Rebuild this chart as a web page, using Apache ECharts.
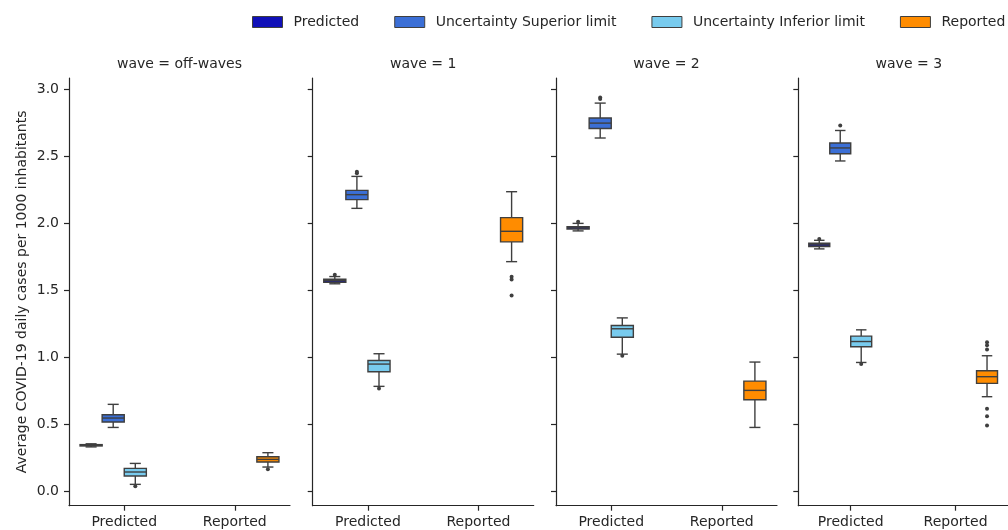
<!DOCTYPE html>
<html>
<head>
<meta charset="utf-8">
<script src="https://cdn.jsdelivr.net/npm/echarts@6/dist/echarts.min.js"></script>
<style>
html,body{margin:0;padding:0;background:#fff;}
#chart{width:1008px;height:530px;}
</style>
</head>
<body>
<div id="chart"></div>
<script>
// ---------------- data ----------------
const waves = ['off-waves', '1', '2', '3'];
const categories = ['Predicted', 'Reported'];
const hues = ['Predicted', 'Uncertainty Superior limit', 'Uncertainty Inferior limit', 'Reported'];
const hueCategory = ['Predicted', 'Predicted', 'Predicted', 'Reported'];
const yTicks = [0.0, 0.5, 1.0, 1.5, 2.0, 2.5, 3.0];

// [min, Q1, median, Q3, max] per wave
const predictedBoxes = [
  [0.333, 0.340, 0.345, 0.350, 0.356],
  [1.548, 1.560, 1.572, 1.582, 1.602],
  [1.942, 1.956, 1.965, 1.974, 1.998],
  [1.808, 1.826, 1.838, 1.850, 1.872]
];
const superiorBoxes = [
  [0.478, 0.518, 0.548, 0.573, 0.650],
  [2.110, 2.175, 2.212, 2.244, 2.348],
  [2.634, 2.705, 2.745, 2.783, 2.894],
  [2.463, 2.517, 2.560, 2.597, 2.690]
];
const inferiorBoxes = [
  [0.054, 0.116, 0.146, 0.173, 0.210],
  [0.784, 0.893, 0.950, 0.977, 1.027],
  [1.024, 1.150, 1.213, 1.237, 1.294],
  [0.962, 1.079, 1.118, 1.158, 1.205]
];
const reportedBoxes = [
  [0.183, 0.220, 0.240, 0.260, 0.290],
  [1.713, 1.860, 1.939, 2.041, 2.234],
  [0.478, 0.684, 0.754, 0.823, 0.965],
  [0.707, 0.806, 0.856, 0.900, 1.012]
];
const predictedOutliers = [[], [1.615], [2.010], [1.882]];
const superiorOutliers = [[], [2.372, 2.382], [2.925, 2.936], [2.728]];
const inferiorOutliers = [[0.040], [0.768], [1.012], [0.950]];
const reportedOutliers = [[0.166], [1.600, 1.580, 1.460], [], [1.113, 1.090, 1.059, 0.617, 0.562, 0.493]];

// ---------------- styling ----------------
const boxesByHue = [predictedBoxes, superiorBoxes, inferiorBoxes, reportedBoxes];
const outliersByHue = [predictedOutliers, superiorOutliers, inferiorOutliers, reportedOutliers];
const colors = ['#1010b8', '#3b6fd6', '#78cbee', '#ff8c00'];
const lineColor = '#3f3f3f';
const hueOffsets = [-0.3, -0.1, 0.1, 0.3];
const FONT = 'DejaVu Sans';
const textColor = '#262626';
const gridLefts = [69, 312.7, 556, 798.3];
const gridWidth = 221;
const gridTop = 78;
const gridHeight = 427.7;
const yMin = -0.105, yMax = 3.081;

const grid = [], xAxis = [], yAxis = [], title = [], series = [];

waves.forEach((w, wi) => {
  grid.push({left: gridLefts[wi], top: gridTop, width: gridWidth, height: gridHeight, containLabel: false});
  xAxis.push({
    type: 'category', gridIndex: wi, data: categories, boundaryGap: true,
    axisLine: {show: true, onZero: false, lineStyle: {color: textColor, width: 1.2}},
    axisTick: {show: true, alignWithLabel: true, length: 5, lineStyle: {color: textColor, width: 1.2}},
    axisLabel: {show: true, fontFamily: FONT, fontSize: 14, color: textColor, margin: 10},
    splitLine: {show: false}
  });
  const ya = {
    type: 'value', gridIndex: wi, min: yMin, max: yMax,
    axisLine: {show: true, onZero: false, lineStyle: {color: textColor, width: 1.2}},
    axisTick: {show: true, length: 5, customValues: yTicks, lineStyle: {color: textColor, width: 1.2}},
    axisLabel: {show: wi === 0, customValues: yTicks, fontFamily: FONT, fontSize: 14, color: textColor, margin: 10,
      formatter: v => Number(v).toFixed(1)},
    splitLine: {show: false}
  };
  if (wi === 0) {
    ya.name = 'Average COVID-19 daily cases per 1000 inhabitants';
    ya.nameLocation = 'middle';
    ya.nameGap = 40;
    ya.nameTextStyle = {fontFamily: FONT, fontSize: 14, color: textColor};
  }
  yAxis.push(ya);
  title.push({
    text: 'wave = ' + w, left: gridLefts[wi] + gridWidth / 2, top: 57, padding: 0, textAlign: 'center',
    textStyle: {fontFamily: FONT, fontSize: 14, fontWeight: 'normal', color: textColor}
  });

  hues.forEach((h, hi) => {
    const b = boxesByHue[hi][wi];
    const outs = outliersByHue[hi][wi];
    const catIdx = categories.indexOf(hueCategory[hi]);
    series.push({
      type: 'custom', name: h, xAxisIndex: wi, yAxisIndex: wi,
      itemStyle: {color: colors[hi], borderColor: lineColor},
      encode: {x: 0, y: [1, 2, 3, 4, 5]},
      data: [[catIdx, b[0], b[1], b[2], b[3], b[4]]],
      silent: true,
      renderItem: (params, api) => {
        const c = api.value(0);
        const band = api.size([1, 0])[0];
        const cx = api.coord([c, 0])[0] + hueOffsets[hi] * band;
        const bw = band * 0.2;
        const cap = bw * 0.5;
        const y = k => api.coord([c, api.value(k)])[1];
        const yMinP = y(1), yQ1 = y(2), yMed = y(3), yQ3 = y(4), yMaxP = y(5);
        const ls = {stroke: lineColor, lineWidth: 1.4};
        const children = [
          {type: 'line', shape: {x1: cx, y1: yQ1, x2: cx, y2: yMinP}, style: ls},
          {type: 'line', shape: {x1: cx, y1: yQ3, x2: cx, y2: yMaxP}, style: ls},
          {type: 'line', shape: {x1: cx - cap / 2, y1: yMinP, x2: cx + cap / 2, y2: yMinP}, style: ls},
          {type: 'line', shape: {x1: cx - cap / 2, y1: yMaxP, x2: cx + cap / 2, y2: yMaxP}, style: ls},
          {type: 'rect', shape: {x: cx - bw / 2, y: yQ3, width: bw, height: yQ1 - yQ3},
            style: {fill: colors[hi], stroke: lineColor, lineWidth: 1.4}},
          {type: 'line', shape: {x1: cx - bw / 2, y1: yMed, x2: cx + bw / 2, y2: yMed}, style: ls}
        ];
        outs.forEach(o => {
          const p = api.coord([c, o]);
          children.push({type: 'circle', shape: {cx: cx, cy: p[1], r: 2}, style: {fill: lineColor}});
        });
        return {type: 'group', children};
      }
    });
  });
});

const chart = echarts.init(document.getElementById('chart'), null, {renderer: 'canvas'});
chart.setOption({
  animation: false,
  backgroundColor: '#ffffff',
  title,
  legend: {
    data: hues.map((n, i) => ({name: n, icon: 'rect', itemStyle: {color: colors[i], borderColor: lineColor, borderWidth: 1}})),
    left: 252, top: 15, padding: 0,
    itemWidth: 30, itemHeight: 11, itemGap: 35,
    textStyle: {fontFamily: FONT, fontSize: 14, color: textColor, padding: [0, 0, 0, 6]},
    selectedMode: false
  },
  grid, xAxis, yAxis, series
});
</script>
</body>
</html>
